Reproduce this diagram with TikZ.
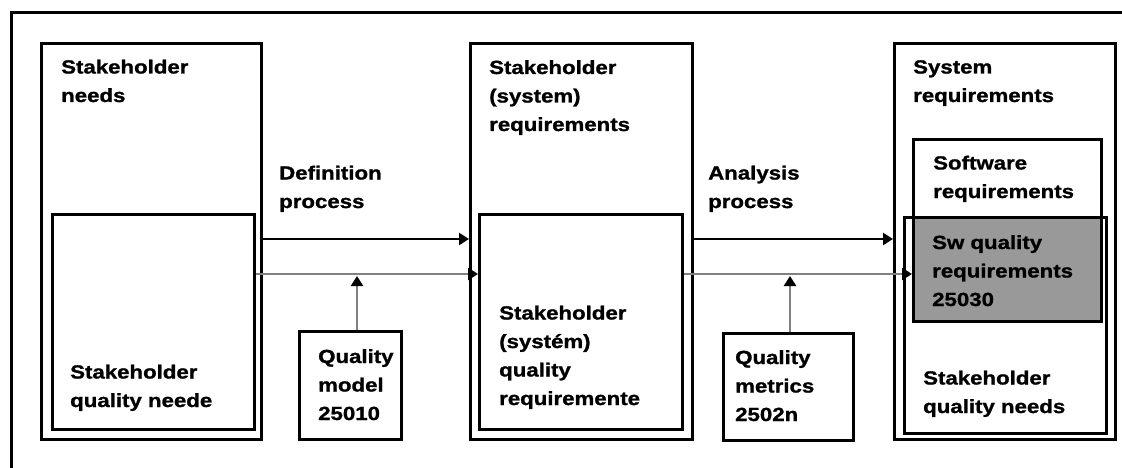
\documentclass[tikz,border=0pt]{standalone}
\usepackage{fontspec}
\newfontfamily\labelfont{Liberation Sans}[FakeStretch=1.17,FakeBold=1.2]
\usetikzlibrary{arrows.meta}
\definecolor{flowgrey}{RGB}{128,128,128}
\definecolor{fillgrey}{RGB}{153,153,153}
\tikzset{
  box/.style={draw=black, line width=2.8pt, rectangle, inner sep=0pt, anchor=north west},
  % labels are placed by the baseline of their last line
  lbl/.style={anchor=base west, align=left, inner sep=0pt,
    font={\labelfont\bfseries\fontsize{19}{28.5}\selectfont}},
  flow/.style={draw=black, line width=2.4pt, -{Triangle[length=10pt,width=12pt]}},
  qflow/.style={draw=flowgrey, line width=2.4pt, -{Triangle[length=10pt,width=12pt,color=black]}}
}
\begin{document}
\begin{tikzpicture}[x=1pt,y=-1pt]
\useasboundingbox (0,0) rectangle (1122,468);
% frame
\draw[line width=3pt] (1122,13) -- (11,13) -- (11,468);

% stakeholder needs
\node[box, minimum width=220pt, minimum height=396pt] (b1) at (40,42) {};
\node[box, minimum width=202pt, minimum height=215pt] (in1) at (51,213) {};
\node[lbl] (t1) at (61,102) {Stakeholder\\needs};
\node[lbl] (t1i) at (70,407) {Stakeholder\\quality neede};

% stakeholder (system) requirements
\node[box, minimum width=222pt, minimum height=396pt] (b2) at (469,42) {};
\node[box, minimum width=203pt, minimum height=215pt] (in2) at (478,213) {};
\node[lbl] (t2) at (489,131) {Stakeholder\\(system)\\requirements};
\node[lbl] (t2i) at (499,405) {Stakeholder\\(systém)\\quality\\requiremente};

% system requirements
\node[box, minimum width=221pt, minimum height=396pt] (b3) at (893,42) {};
\node[box, minimum width=188pt, minimum height=182pt] (swr) at (912,138) {};
\node[box, minimum width=202pt, minimum height=216pt] (sqn) at (903,216) {};
\node[box, fill=fillgrey, minimum width=188pt, minimum height=104pt] (swq) at (912,216) {};
\node[lbl] (t3) at (913,102) {System\\requirements};
\node[lbl] (tswr) at (933,198) {Software\\requirements};
\node[lbl] (tswq) at (932,306) {Sw quality\\requirements\\25030};
\node[lbl] (tsqn) at (923,413) {Stakeholder\\quality needs};

% quality model and metrics
\node[box, minimum width=102pt, minimum height=108pt] (qm) at (298,330) {};
\node[lbl] (tqm) at (318,420) {Quality\\model\\25010};
\node[box, minimum width=130pt, minimum height=107pt] (qmet) at (722,332) {};
\node[lbl] (tqmet) at (735,421) {Quality\\metrics\\2502n};

% process labels
\node[lbl] (def) at (279,208) {Definition\\process};
\node[lbl] (ana) at (708,208) {Analysis\\process};

% flows
\draw[flow] (b1.east |- 0,239) -- (b2.west |- 0,239);
\draw[qflow] (in1.east |- 0,274) -- (in2.west |- 0,274);
\draw[qflow] (qm.north -| 357,0) -- (357,276);
\draw[flow] (b2.east |- 0,239) -- (b3.west |- 0,239);
\draw[qflow] (in2.east |- 0,274) -- (swq.west |- 0,274);
\draw[qflow] (qmet.north -| 790,0) -- (790,276);
\end{tikzpicture}
\end{document}
